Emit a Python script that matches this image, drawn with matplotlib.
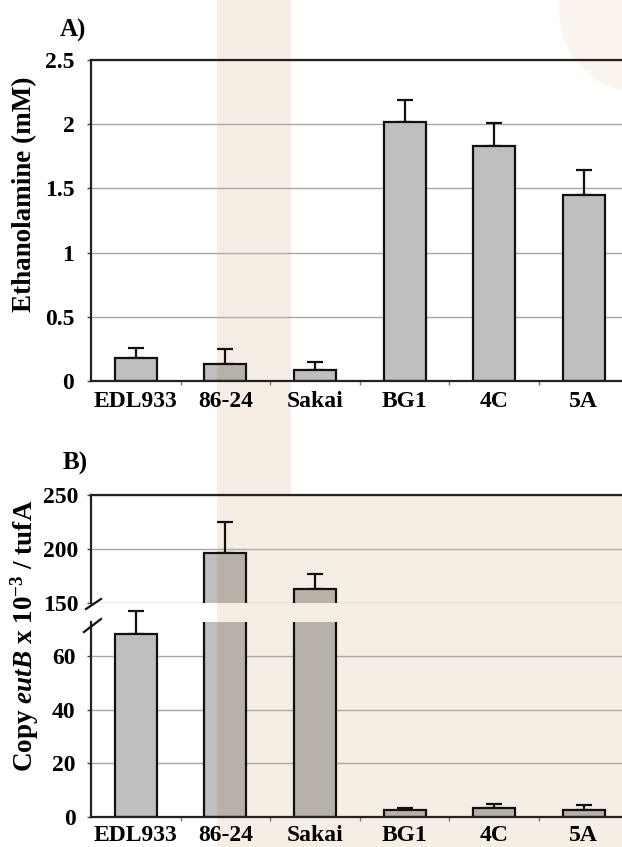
import matplotlib
matplotlib.use("Agg")
import matplotlib.pyplot as plt
import matplotlib.patches as patches
from matplotlib.lines import Line2D
import numpy as np

# --- Data ---
strains = ["EDL933", "86-24", "Sakai", "BG1", "4C", "5A"]
etha_mean = [0.18, 0.13, 0.085, 2.02, 1.83, 1.45]
etha_err = [0.08, 0.12, 0.065, 0.165, 0.18, 0.19]
eutb_mean = [68.2, 196.4, 162.4, 2.5, 3.1, 2.5]
eutb_err = [8.7, 28.8, 14.2, 0.8, 1.5, 2.0]

# --- Style ---
W, H = 622, 847
plt.rcParams['font.family'] = ['Liberation Serif', 'DejaVu Serif']
plt.rcParams['font.weight'] = 'bold'
plt.rcParams['mathtext.fontset'] = 'custom'
plt.rcParams['mathtext.rm'] = 'Liberation Serif:bold'
plt.rcParams['mathtext.it'] = 'Liberation Serif:italic:bold'
plt.rcParams['mathtext.bf'] = 'Liberation Serif:bold'

bar_color = "#bfbfbf"
bar_tinted = "#b8b1a9"   # grey bar seen through the beige tint
grid_color = "#a8a8a8"
beige = "#f6eee4"
tick_fs = 17
label_fs = 19.5
bar_w = 0.47
x = np.arange(len(strains))


def frac(left, top, right, bottom):
    # pixel box -> figure fraction rect
    return [left / W, 1 - bottom / H, (right - left) / W, (bottom - top) / H]


fig = plt.figure(figsize=(W / 100, H / 100), dpi=100)
fig.patch.set_facecolor("white")

# faint background shapes seen in the picture, on their own axes in pixel units
bg = fig.add_axes([0, 0, 1, 1], zorder=-5)
bg.set_xlim(0, W)
bg.set_ylim(H, 0)
bg.axis('off')
bg.add_patch(patches.Rectangle((217, 0), 74, H, facecolor=beige, edgecolor="none"))
bg.add_patch(patches.Rectangle((217, 495), W - 217, H - 495, facecolor=beige, edgecolor="none"))
bg.add_patch(patches.Circle((642, 10), 83, facecolor="#fbf4ec", edgecolor="none"))


def style_axis(ax, ylim, yticks, ylabels, pad):
    ax.set_facecolor("none")
    ax.set_xlim(-0.5, 5.5)
    ax.set_ylim(*ylim)
    ax.set_yticks(yticks)
    ax.set_yticklabels(ylabels, fontsize=tick_fs, fontweight='bold')
    ax.yaxis.grid(True, color=grid_color, lw=1.0)
    ax.set_axisbelow(True)
    ax.tick_params(axis='y', length=3, width=1, color="#444444", pad=pad)
    ax.spines['right'].set_visible(False)
    for s in ['left', 'top', 'bottom']:
        ax.spines[s].set_linewidth(1.6)
        ax.spines[s].set_color("#222222")


def set_xcats(ax, pad):
    ax.set_xticks(x)
    ax.set_xticklabels(strains, fontsize=tick_fs, fontweight='bold')
    ax.set_xticks(x[:-1] + 0.5, minor=True)
    ax.tick_params(axis='x', which='major', length=0, pad=pad)
    ax.tick_params(axis='x', which='minor', length=3, width=1, color="#777777")


def draw_bars(ax, vals, errs, idx, tint_px, clip=True):
    ax.bar(x, vals, width=bar_w, color=bar_color, edgecolor="none", zorder=2)
    # part of each bar that lies over the beige tint
    inv = ax.transData.inverted()
    t0 = inv.transform((tint_px[0], 0))[0]
    t1 = inv.transform((tint_px[1], 0))[0]
    for xi, v in zip(x, vals):
        a, b = max(xi - bar_w / 2, t0), min(xi + bar_w / 2, t1)
        if b > a:
            ax.add_patch(patches.Rectangle((a, 0), b - a, v, facecolor=bar_tinted,
                                           edgecolor="none", zorder=2.1))
    ax.bar(x, vals, width=bar_w, facecolor="none", edgecolor="#111111", linewidth=1.6, zorder=2.2)
    if idx:
        xi = [x[i] for i in idx]
        vi = [vals[i] for i in idx]
        ei = [errs[i] for i in idx]
        eb = ax.errorbar(xi, vi, yerr=[np.zeros(len(ei)), ei], fmt='none', ecolor="#111111",
                         elinewidth=1.6, capsize=6, capthick=1.6, zorder=1)
        for art in eb.lines[1] + eb.lines[2]:
            art.set_clip_on(clip)


# --- Panel A ---
axA = fig.add_axes(frac(91, 60, 628.6, 381))
style_axis(axA, (0, 2.5), [0, 0.5, 1, 1.5, 2, 2.5], ["0", "0.5", "1", "1.5", "2", "2.5"], 9)
draw_bars(axA, etha_mean, etha_err, list(range(6)), (217, 291))
set_xcats(axA, 7)
fig.text(25 / W, 1 - 194 / H, "Ethanolamine (mM)", rotation=90, ha='center', va='center',
         fontsize=label_fs, fontweight='bold')
fig.text(73 / W, 1 - 30 / H, "A)", ha='center', va='center', fontsize=18, fontweight='bold')

# --- Panel B, upper part ---
lo_top = 72.7
axBu = fig.add_axes(frac(91, 495, 628.6, 602.7))
style_axis(axBu, (150, 250), [150, 200, 250], ["150", "200", "250"], 6)
axBu.spines['bottom'].set_visible(False)
axBu.set_xticks([])
draw_bars(axBu, eutb_mean, eutb_err, [i for i, v in enumerate(eutb_mean) if v >= 150], (217, 700))

# --- Panel B, lower part ---
axBl = fig.add_axes(frac(91, 622.3, 628.6, 816.7))
style_axis(axBl, (0, lo_top), [0, 20, 40, 60], ["0", "20", "40", "60"], 8)
axBl.spines['top'].set_visible(False)
draw_bars(axBl, eutb_mean, eutb_err, [i for i, v in enumerate(eutb_mean) if v < lo_top], (217, 700),
          clip=False)
set_xcats(axBl, 6)

# background tint across the axis break
fig.add_artist(patches.Rectangle((217 / W, 1 - 622.3 / H), (W - 217) / W, 19 / H,
                                 transform=fig.transFigure, facecolor=beige, edgecolor="none",
                                 zorder=1))

# axis break marks
for (x0, y0, x1, y1) in [(86, 609, 101, 599), (84, 632, 101, 619)]:
    fig.add_artist(Line2D([x0 / W, x1 / W], [1 - y0 / H, 1 - y1 / H], transform=fig.transFigure,
                          color="#111111", lw=1.6, zorder=3))

fig.text(25 / W, 1 - 636 / H, "Copy $\\mathit{eutB}$ x 10$^{\\mathrm{-3}}$ / tufA", rotation=90,
         ha='center', va='center', fontsize=label_fs, fontweight='bold')
fig.text(75 / W, 1 - 463 / H, "B)", ha='center', va='center', fontsize=18, fontweight='bold')

fig.savefig("out.png", dpi=100)
